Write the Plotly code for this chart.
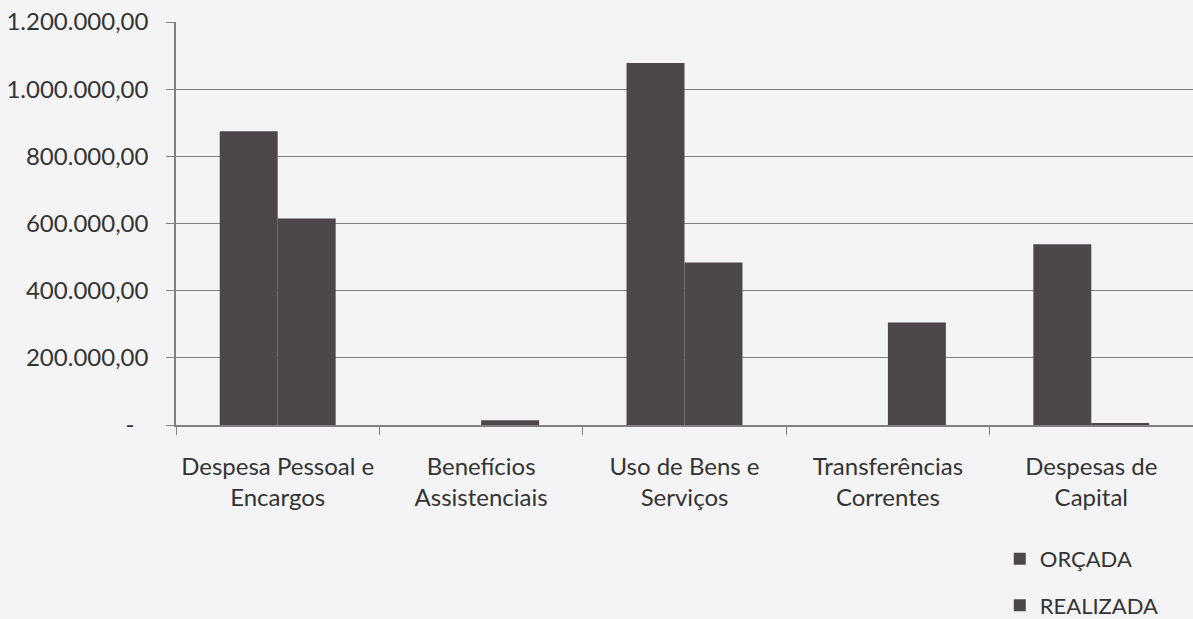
import plotly.graph_objects as go

categories = ["Despesa Pessoal e<br>Encargos", "Benefícios<br>Assistenciais",
              "Uso de Bens e<br>Serviços", "Transferências<br>Correntes",
              "Despesas de<br>Capital"]
orcada = [875000, 0, 1078000, 0, 538000]
realizada = [615000, 14000, 484000, 305000, 3000]
ytick_vals = [0, 200000, 400000, 600000, 800000, 1000000, 1200000]
ytick_text = ["-\u2007", "200.000,00", "400.000,00", "600.000,00", "800.000,00",
              "1.000.000,00", "1.200.000,00"]

bar_color = "#4d474a"
font_family = "Lato, 'Open Sans', sans-serif"
text_color = "#333333"
grid_color = "#808080"

fig = go.Figure()
fig.add_trace(go.Bar(name="ORÇADA", x=categories, y=orcada,
                     marker=dict(color=bar_color, line=dict(width=0)),
                     legendgroup="a"))
fig.add_trace(go.Bar(name="REALIZADA", x=categories, y=realizada,
                     marker=dict(color=bar_color, line=dict(width=0)),
                     legendgroup="b"))

fig.update_layout(
    width=1193, height=619,
    margin=dict(l=176, r=0, t=22, b=194, autoexpand=False),
    paper_bgcolor="#f4f4f6", plot_bgcolor="#f4f4f6",
    barmode="group", bargap=0.43, bargroupgap=0,
    font=dict(family=font_family, size=24, color=text_color),
    showlegend=True,
    legend=dict(x=0.81, xanchor="left", y=-0.28, yanchor="top",
                bgcolor="rgba(0,0,0,0)", font=dict(size=22),
                tracegroupgap=15, itemwidth=30),
    xaxis=dict(showline=True, linecolor=grid_color, linewidth=1.5,
               ticks="outside", tickson="boundaries", ticklen=8,
               tickcolor=grid_color, showgrid=False,
               ticklabelstandoff=19,
               tickfont=dict(size=24)),
    yaxis=dict(range=[0, 1200000], tickvals=ytick_vals, ticktext=ytick_text,
               showline=True, linecolor=grid_color, linewidth=1.5,
               ticks="outside", ticklen=8, tickcolor=grid_color,
               showgrid=True, gridcolor=grid_color, gridwidth=1,
               zeroline=False, ticklabelstandoff=13,
               tickfont=dict(size=24)),
)

fig.write_html("out.html", config={"displayModeBar": False},
               post_script="document.body.style.margin='0';document.body.style.overflow='hidden';")
